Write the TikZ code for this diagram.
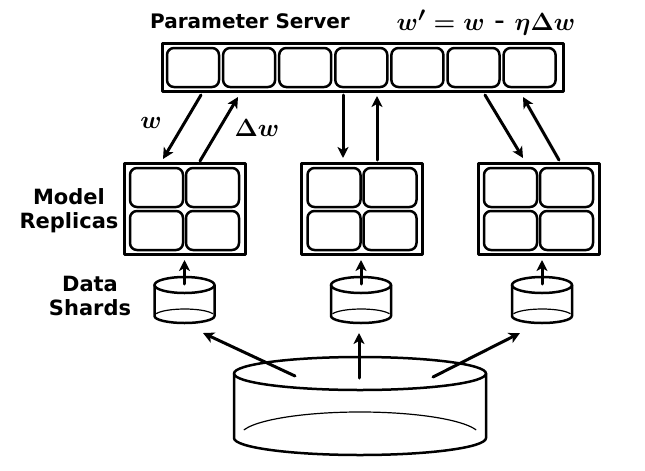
\documentclass[tikz,border=0pt]{standalone}
\usepackage{fontspec}
\setmainfont{DejaVu Sans}
\usetikzlibrary{arrows.meta}
\tikzset{
  psbox/.style={draw,line width=3pt,inner sep=0pt},
  cellbox/.style={draw,line width=2.5pt,rounded corners=7pt,inner sep=0pt,minimum width=52pt,minimum height=39pt},
  flow/.style={-{Stealth[length=11pt,width=11pt,inset=3pt]},line width=3pt},
  can/.style={line width=2.5pt},
  canback/.style={line width=1.2pt},
  tag/.style={font=\fontsize{21}{24}\selectfont\bfseries,align=center,inner sep=0pt},
  sym/.style={font=\fontsize{30}{32}\selectfont\boldmath,inner sep=0pt}
}
\begin{document}
\begin{tikzpicture}[x=1pt,y=-1pt,line cap=round,line join=round]
\useasboundingbox (0,0) rectangle (645,471);
% parameter server
\node[psbox,minimum width=401pt,minimum height=48pt] (ps) at (362.5,67) {};
\foreach \i in {0,...,6}
  \node[cellbox] (pc\i) at (193+56.1*\i,67.5) {};
\node[tag,font=\fontsize{20}{22}\selectfont\bfseries,anchor=base] (pslabel) at (250,28) {Parameter Server};
\node[sym] (rule) at (486,23) {$w' = w$ - $\eta\Delta w$};
% model replicas
\foreach \n/\x in {1/184.5,2/362,3/538.5}{
  \node[psbox,minimum width=121pt,minimum height=91pt] (rep\n) at (\x,208.5) {};
  \foreach \dx in {-28,28}
    \foreach \dy in {-21,22}
      \node[cellbox,minimum width=53pt] at (\x+\dx,208.5+\dy) {};
}
\node[tag] (replabel) at (69,211) {Model\\Replicas};
\node[tag] (shardlabel) at (90,296) {Data\\Shards};
% data shards
\foreach \n/\x in {1/184.5,2/361,3/542}{
  \draw[can] (\x,285) ellipse [x radius=30,y radius=8];
  \draw[can] (\x-30,285) -- (\x-30,316) arc[start angle=180,end angle=0,x radius=30,y radius=7] -- (\x+30,285);
  \draw[canback] (\x,316) ++(200:30 and 7) arc[start angle=200,end angle=340,x radius=30,y radius=7];
  \coordinate (s\n) at (\x,284);
  \coordinate (r\n) at (\x,260);
}
% whole data set
\draw[can] (360,373.5) ellipse [x radius=126,y radius=16.5];
\draw[can] (234,373.5) -- (234,438) arc[start angle=180,end angle=0,x radius=126,y radius=17] -- (486,373.5);
\draw[canback] (360,436) ++(195:120 and 24) arc[start angle=195,end angle=345,x radius=120,y radius=24];
\coordinate (d1) at (295,376);
\coordinate (d2) at (359,378);
\coordinate (d3) at (433,377);
\coordinate (t1) at (203,333);
\coordinate (t2) at (359,333);
\coordinate (t3) at (520,333);
\foreach \n in {1,2,3}{
  \draw[flow] (d\n) -- (t\n);
  \draw[flow] (s\n) -- (r\n);
}
% updates
\coordinate (a1) at (201,95);  \coordinate (b1) at (163,159);
\coordinate (c1) at (200,161); \coordinate (e1) at (238,97);
\coordinate (a2) at (343,95);  \coordinate (b2) at (343,158);
\coordinate (c2) at (377,160); \coordinate (e2) at (377,96);
\coordinate (a3) at (485,95);  \coordinate (b3) at (523,158);
\coordinate (c3) at (559,160); \coordinate (e3) at (523,97);
\foreach \n in {1,2,3}{
  \draw[flow] (a\n) -- (b\n);
  \draw[flow] (c\n) -- (e\n);
}
\node[sym] (wlabel) at (151,123) {$w$};
\node[sym] (dwlabel) at (257,128) {$\Delta w$};
\end{tikzpicture}
\end{document}
